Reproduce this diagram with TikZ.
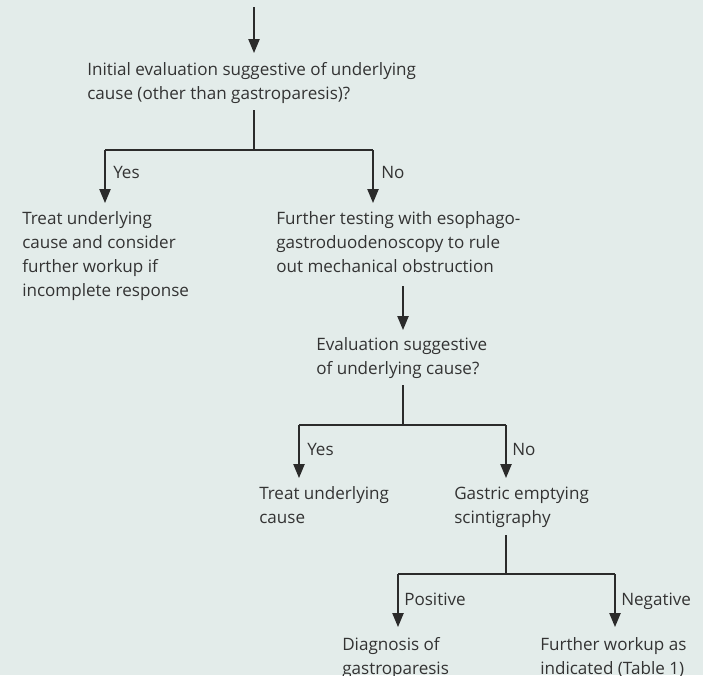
\documentclass[tikz,border=0pt]{standalone}
\usepackage{fontspec}
\setmainfont{Open Sans}
\usetikzlibrary{arrows.meta}
\definecolor{bg}{HTML}{E3ECEA}
\definecolor{ink}{HTML}{333333}
\definecolor{lnk}{HTML}{2B2B2B}
\begin{document}
\begin{tikzpicture}[x=0.75pt,y=-0.75pt,
  txt/.style={anchor=base west, align=left, inner sep=0pt, text=ink, font=\fontsize{12.8}{18}\selectfont},
  conn/.style={draw=lnk, line width=1pt},
  arr/.style={conn, -{Triangle[length=10.5pt,width=8.5pt]}}]
\fill[bg] (0,0) rectangle (703,675);
\useasboundingbox (0,0) rectangle (703,675);

% nodes (anchor = baseline of last line)
\node[txt] (q1) at (87,99) {Initial evaluation suggestive of underlying\\cause (other than gastroparesis)?};
\node[txt] (a1) at (22,296) {Treat underlying\\cause and consider\\further workup if\\incomplete response};
\node[txt] (b1) at (276,272) {Further testing with esophago-\\gastroduodenoscopy to rule\\out mechanical obstruction};
\node[txt] (q2) at (316,374) {Evaluation suggestive\\of underlying cause?};
\node[txt] (a2) at (259,523) {Treat underlying\\cause};
\node[txt] (q3) at (454,523) {Gastric emptying\\scintigraphy};
\node[txt] (d1) at (342,674) {Diagnosis of\\gastroparesis};
\node[txt] (d2) at (540,674) {Further workup as\\indicated (Table 1)};

% labels
\node[txt] (y1) at (113,178) {Yes};
\node[txt] (n1) at (381,178) {No};
\node[txt] (y2) at (307,455) {Yes};
\node[txt] (n2) at (512,455) {No};
\node[txt] (p3) at (404,605) {Positive};
\node[txt] (g3) at (621,605) {Negative};

% coordinates
\coordinate (s0) at (254,7);
\coordinate (s0t) at (254,53);
\coordinate (q1o) at (254,110);
\coordinate (j1) at (254,150);
\coordinate (j1l) at (105,150);
\coordinate (j1r) at (373,150);
\coordinate (a1t) at (105,203);
\coordinate (b1t) at (373,203);
\coordinate (b1o) at (403,286);
\coordinate (q2t) at (403,330);
\coordinate (q2o) at (403,385);
\coordinate (j2) at (403,425);
\coordinate (j2l) at (299,425);
\coordinate (j2r) at (506,425);
\coordinate (a2t) at (299,478);
\coordinate (q3t) at (506,478);
\coordinate (q3o) at (506,535);
\coordinate (j3) at (506,574);
\coordinate (j3l) at (398,574);
\coordinate (j3r) at (615,574);
\coordinate (d1t) at (398,627);
\coordinate (d2t) at (615,627);

% connectors
\draw[arr] (s0) -- (s0t);
\draw[conn] (q1o) -- (j1);
\draw[conn] (j1l) -- (j1r);
\draw[arr] (j1l) -- (a1t);
\draw[arr] (j1r) -- (b1t);
\draw[arr] (b1o) -- (q2t);
\draw[conn] (q2o) -- (j2);
\draw[conn] (j2l) -- (j2r);
\draw[arr] (j2l) -- (a2t);
\draw[arr] (j2r) -- (q3t);
\draw[conn] (q3o) -- (j3);
\draw[conn] (j3l) -- (j3r);
\draw[arr] (j3l) -- (d1t);
\draw[arr] (j3r) -- (d2t);
\end{tikzpicture}
\end{document}
